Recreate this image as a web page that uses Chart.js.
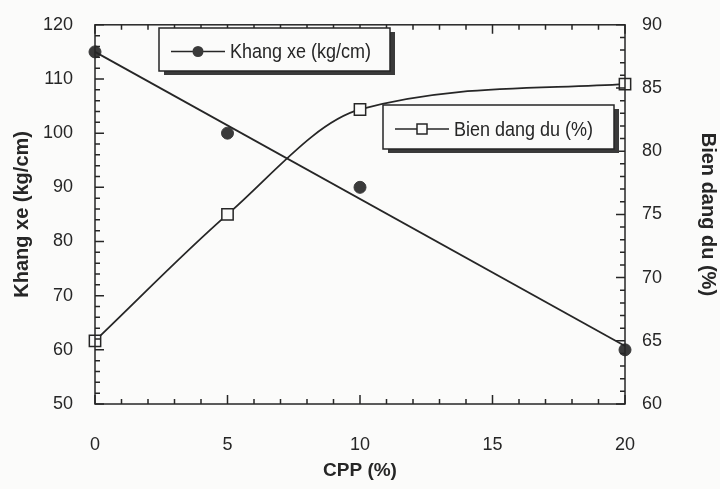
<!DOCTYPE html>
<html>
<head>
<meta charset="utf-8">
<script src="https://cdn.jsdelivr.net/npm/chart.js@4.4.1/dist/chart.umd.min.js"></script>
<style>
  html, body { margin: 0; padding: 0; background: #fbfbfa; }
  #wrap { width: 720px; height: 489px; }
</style>
</head>
<body>
<div id="wrap"><canvas id="cpp-chart"></canvas></div>
<script>
const cppValues = [0, 5, 10, 20];
const khangXe = [115, 100, 90, 60];
const bienDang = [65, 75, 83.3, 85.3];
// straight fitted line drawn through the Khang xe points
const fitCpp = [0, 20];
const fitKhangXe = [115, 60.7];

const xTicks = [0, 5, 10, 15, 20];
const leftTicks = [50, 60, 70, 80, 90, 100, 110, 120];
const rightTicks = [60, 65, 70, 75, 80, 85, 90];

const ink = "#262626";
const paper = "#fbfbfa";
const font = "'Liberation Sans', Arial, sans-serif";

// inward major/minor ticks on all four sides
const innerTicks = {
  id: "innerTicks",
  afterDraw(chart) {
    const { ctx, chartArea: a } = chart;
    const sx = chart.scales.x, sl = chart.scales.y, sr = chart.scales.y1;
    ctx.save();
    ctx.strokeStyle = ink;
    ctx.lineWidth = 1.5;
    ctx.beginPath();
    for (let v = 0; v <= 20; v += 1) {
      const len = v % 5 === 0 ? 9 : 5;
      const px = sx.getPixelForValue(v);
      ctx.moveTo(px, a.bottom); ctx.lineTo(px, a.bottom - len);
      ctx.moveTo(px, a.top); ctx.lineTo(px, a.top + len);
    }
    for (let v = 50; v <= 120; v += 2) {
      const len = v % 10 === 0 ? 9 : 5;
      const py = sl.getPixelForValue(v);
      ctx.moveTo(a.left, py); ctx.lineTo(a.left + len, py);
    }
    for (let v = 60; v <= 90; v += 1) {
      const len = v % 5 === 0 ? 9 : 5;
      const py = sr.getPixelForValue(v);
      ctx.moveTo(a.right, py); ctx.lineTo(a.right - len, py);
    }
    ctx.stroke();
    ctx.strokeRect(a.left, a.top, a.right - a.left, a.bottom - a.top);
    ctx.restore();
  },
};

// boxed legends with a heavy drop shadow, as in the scanned figure
const boxedLegends = {
  id: "boxedLegends",
  afterDraw(chart) {
    const { ctx } = chart;
    const boxes = [
      { x: 159, y: 28, w: 231, h: 43, label: "Khang xe (kg/cm)", marker: "circle" },
      { x: 383, y: 105, w: 231, h: 44, label: "Bien dang du (%)", marker: "square" },
    ];
    ctx.save();
    boxes.forEach((b) => {
      ctx.fillStyle = "#3a3a3a";
      ctx.fillRect(b.x + 5, b.y + 4, b.w, b.h);
      ctx.fillStyle = paper;
      ctx.fillRect(b.x, b.y, b.w, b.h);
      ctx.strokeStyle = ink;
      ctx.lineWidth = 1.5;
      ctx.strokeRect(b.x, b.y, b.w, b.h);
      const cy = b.y + b.h / 2 + 2;
      ctx.beginPath();
      ctx.moveTo(b.x + 12, cy);
      ctx.lineTo(b.x + 66, cy);
      ctx.stroke();
      const mx = b.x + 39;
      if (b.marker === "circle") {
        ctx.fillStyle = "#3a3a3a";
        ctx.beginPath();
        ctx.arc(mx, cy, 5.5, 0, Math.PI * 2);
        ctx.fill();
      } else {
        ctx.fillStyle = paper;
        ctx.fillRect(mx - 5, cy - 5, 10, 10);
        ctx.strokeRect(mx - 5, cy - 5, 10, 10);
      }
      // the scan is slightly stretched vertically
      ctx.save();
      ctx.translate(b.x + 71, cy);
      ctx.scale(1, 1.15);
      ctx.fillStyle = ink;
      ctx.font = "18px " + font;
      ctx.textBaseline = "middle";
      ctx.fillText(b.label, 0, 1);
      ctx.restore();
    });
    ctx.restore();
  },
};

const ctx = document.getElementById("cpp-chart").getContext("2d");
new Chart(ctx, {
  type: "scatter",
  data: {
    datasets: [
      {
        label: "Khang xe fit",
        data: fitCpp.map((x, i) => ({ x, y: fitKhangXe[i] })),
        yAxisID: "y",
        showLine: true,
        borderColor: ink,
        borderWidth: 1.8,
        pointRadius: 0,
        clip: false,
      },
      {
        label: "Khang xe (kg/cm)",
        data: cppValues.map((x, i) => ({ x, y: khangXe[i] })),
        yAxisID: "y",
        showLine: false,
        pointStyle: "circle",
        pointRadius: 6,
        backgroundColor: "#3a3a3a",
        borderColor: "#3a3a3a",
        clip: false,
      },
      {
        label: "Bien dang du (%)",
        data: cppValues.map((x, i) => ({ x, y: bienDang[i] })),
        yAxisID: "y1",
        showLine: true,
        cubicInterpolationMode: "monotone",
        borderColor: ink,
        borderWidth: 1.8,
        pointStyle: "rect",
        pointRadius: 8,
        pointBorderWidth: 1.5,
        pointBackgroundColor: paper,
        pointBorderColor: ink,
        clip: false,
      },
    ],
  },
  options: {
    responsive: true,
    maintainAspectRatio: false,
    animation: false,
    layout: { padding: { top: 12, left: 0, right: 0, bottom: 0 } },
    plugins: { legend: { display: false }, tooltip: { enabled: false } },
    scales: {
      x: {
        type: "linear",
        min: 0,
        max: 20,
        afterBuildTicks: (s) => { s.ticks = xTicks.map((v) => ({ value: v })); },
        afterFit: (s) => { s.height = 85; },
        grid: { display: false },
        border: { display: false },
        ticks: { color: ink, padding: 22, font: { size: 18, family: font } },
        title: {
          display: true,
          text: "CPP (%)",
          color: ink,
          padding: { top: 0, bottom: 7 },
          font: { size: 19, weight: "bold", family: font },
        },
      },
      y: {
        position: "left",
        min: 50,
        max: 120,
        afterBuildTicks: (s) => { s.ticks = leftTicks.map((v) => ({ value: v })); },
        afterFit: (s) => { s.width = 95; },
        grid: { display: false },
        border: { display: false },
        ticks: { color: ink, padding: 14, font: { size: 18, family: font } },
        title: {
          display: true,
          text: "Khang xe (kg/cm)",
          color: ink,
          padding: { top: 10, bottom: 0 },
          font: { size: 20, weight: "bold", family: font },
        },
      },
      y1: {
        position: "right",
        min: 60,
        max: 90,
        afterBuildTicks: (s) => { s.ticks = rightTicks.map((v) => ({ value: v })); },
        afterFit: (s) => { s.width = 95; },
        grid: { display: false },
        border: { display: false },
        ticks: { color: ink, padding: 9, font: { size: 18, family: font } },
        title: {
          display: true,
          text: "Bien dang du (%)",
          color: ink,
          padding: { top: 0, bottom: 0 },
          font: { size: 20, weight: "bold", family: font },
        },
      },
    },
  },
  plugins: [innerTicks, boxedLegends],
});
</script>
</body>
</html>
